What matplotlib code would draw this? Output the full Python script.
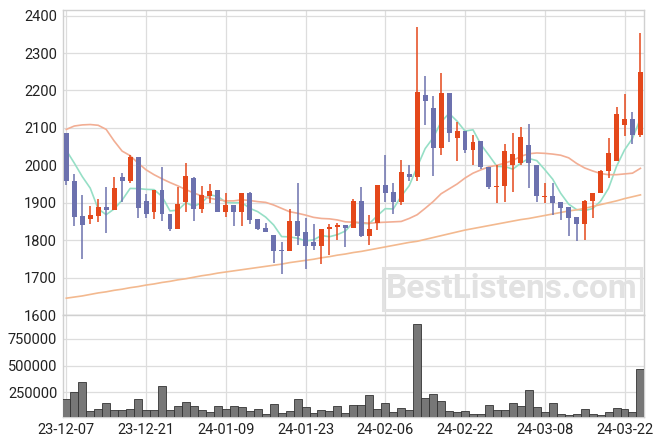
import numpy as np
import pandas as pd
import matplotlib
matplotlib.use('Agg')
from matplotlib import pyplot as plt
from matplotlib.patches import Rectangle

plt.rcParams['font.family'] = ['Roboto', 'DejaVu Sans']

# daily candles, 73 sessions from 23-12-07
opens = [2087,1959,1864,1857,1865,1889,1881,1969,1959,2023,
         1905,1875,1934,1869,1830,1903,1967,1884,1919,1934,
         1876,1894,1876,1926,1857,1832,1813,1773,1771,1851,
         1822,1795,1785,1829,1836,1840,1833,1905,1812,1847,
         1947,1928,1901,1978,1970,2189,2152,2046,2193,2073,
         2093,2040,2064,1996,1943,1946,2000,2005,2054,2001,
         1916,1917,1901,1888,1861,1844,1904,1926,1984,2011,
         2109,2123,2081]
closes = [1957,1863,1841,1867,1889,1881,1939,1959,2023,1887,
          1871,1935,1869,1829,1897,1972,1884,1921,1932,1875,
          1894,1876,1926,1855,1830,1821,1771,1771,1851,1812,
          1785,1785,1829,1835,1840,1833,1905,1812,1830,1947,
          1927,1901,1983,1970,2197,2172,2046,2193,2086,2093,
          2040,2063,1995,1943,1945,2037,2029,2075,2005,1917,
          1917,1900,1887,1860,1844,1905,1926,1985,2033,2138,
          2123,2081,2249]
highs = [2087,1978,1920,1892,1909,1941,1970,1979,2028,2023,
         1923,1935,1996,1869,1941,2006,1970,1945,1951,1934,
         1926,1894,1926,1928,1857,1847,1813,1796,1883,1952,
         1860,1843,1829,1844,1845,1840,1911,1943,1866,1947,
         2028,1952,2015,2000,2369,2238,2184,2248,2193,2116,
         2093,2082,2064,1996,2000,2057,2087,2102,2111,2001,
         1954,1952,1901,1888,1861,1908,1926,1988,2073,2157,
         2190,2143,2353]
lows = [1948,1839,1751,1843,1848,1818,1881,1903,1952,1858,
        1858,1856,1850,1825,1830,1875,1852,1872,1899,1875,
        1861,1838,1839,1843,1828,1821,1740,1710,1771,1788,
        1724,1773,1737,1761,1800,1782,1833,1809,1788,1827,
        1902,1869,1893,1957,1957,2108,1972,2028,2062,2012,
        2033,2002,1990,1936,1899,1901,1928,2000,1939,1902,
        1899,1868,1854,1812,1797,1800,1860,1926,1966,2011,
        2078,2058,2076]
volumes = [187500,256000,350000,78000,97000,153000,87500,87500,97000,187500,
           87500,87500,309000,87500,122000,162500,122000,87500,65600,122000,
           97000,122000,112500,78000,97000,47000,140600,59400,78000,187500,
           112500,59400,87500,78000,122000,59400,131000,131000,225000,94000,
           150000,65600,103000,84400,881000,197000,234000,169000,75000,65600,
           75000,47000,53000,131000,84400,84400,150000,122000,272000,112500,
           65600,150000,53000,44000,53000,94000,53000,44000,65600,103000,
           94000,65600,469000]

# moving averages (first MA5 points and the MA20/MA60 lines)
ma5_head = [2040, 2006, 1970, 1939]
ma20 = [2096,2105,2108,2109,2107,2096,2065,2038,2026,2006,
        1988,1975,1964,1954,1945,1935,1926,1918,1912,1908,
        1905,1905,1908,1906,1903,1901,1894,1885,1876,1872,
        1867,1861,1858,1857,1854,1849,1848,1847,1845,1847,
        1848,1849,1850,1858,1868,1885,1903,1924,1937,1950,
        1966,1979,1988,1996,2000,2006,2013,2024,2031,2033,
        2032,2030,2027,2020,2005,1993,1985,1978,1975,1975,
        1977,1979,1992]
ma60 = [1645,1648,1651,1655,1659,1662,1666,1669,1673,1676,
        1680,1683,1687,1690,1694,1697,1701,1705,1708,1712,
        1715,1718,1721,1724,1727,1730,1733,1736,1740,1743,
        1746,1749,1753,1756,1760,1763,1767,1770,1774,1778,
        1782,1786,1790,1794,1797,1802,1807,1812,1817,1822,
        1827,1831,1835,1839,1843,1847,1851,1855,1858,1862,
        1866,1870,1874,1878,1881,1885,1890,1895,1900,1905,
        1911,1916,1921]

tick_pos = [0, 10, 20, 30, 40, 50, 60, 70]
tick_labels = ['23-12-07', '23-12-21', '24-01-09', '24-01-23',
               '24-02-06', '24-02-22', '24-03-08', '24-03-22']

up_color = '#e4481b'
down_color = '#6c71ae'

df = pd.DataFrame({'open': opens, 'high': highs, 'low': lows,
                   'close': closes, 'volume': volumes})
x = np.arange(len(df))
ma5 = df['close'].rolling(5).mean().to_numpy()
ma5[:4] = ma5_head

fig = plt.figure(figsize=(6.63, 4.45), dpi=100)
ax = fig.add_axes([0.0946, 0.2921, 0.8768, 0.6854])
axv = fig.add_axes([0.0946, 0.0629, 0.8768, 0.2292], sharex=ax)

up = df['close'] >= df['open']
colors = np.where(up, up_color, down_color)
body_lo = np.minimum(df['open'], df['close'])
body_h = np.maximum(np.abs(df['close'] - df['open']), 2)

ax.vlines(x, df['low'], df['high'], colors=colors, linewidth=1.1, zorder=3)
ax.bar(x, body_h, bottom=body_lo, width=0.62, color=colors, zorder=4)

ax.plot(x, ma5, color='#96dfc6', linewidth=1.2, zorder=2)
ax.plot(x, ma20, color='#f2ae94', linewidth=1.2, zorder=2)
ax.plot(x, ma60, color='#f3b98f', linewidth=1.2, zorder=2)

ax.set_ylim(1600, 2415)
ax.set_yticks(range(1600, 2401, 100))
ax.set_xlim(-0.45, 72.45)

axv.bar(x, df['volume'], width=1.0, color='#777777', edgecolor='#333333',
        linewidth=0.6, zorder=3)
axv.set_ylim(22000, 969000)
axv.set_yticks([250000, 500000, 750000])
axv.set_xticks(tick_pos)
axv.set_xticklabels(tick_labels)

for a in (ax, axv):
    a.grid(True, color='#dddddd', linewidth=0.9, zorder=0)
    a.set_axisbelow(True)
    a.tick_params(length=0, labelsize=10.5, colors='#222222', pad=4)
    for s in a.spines.values():
        s.set_color('#d0d0d0')
        s.set_linewidth(1.0)
plt.setp(ax.get_xticklabels(), visible=False)

# watermark
fig.patches.append(Rectangle((383 / 663, 1 - 310 / 445), 258 / 663, 42 / 445,
                             transform=fig.transFigure, fill=False,
                             edgecolor='#e2e2e2', linewidth=2.2, zorder=5))
fig.text(512 / 663, 1 - 289 / 445, 'BestListens.com', ha='center', va='center',
         fontsize=24, fontweight='bold', color='#e2e2e2', zorder=5)

fig.savefig('out.png', dpi=100)
